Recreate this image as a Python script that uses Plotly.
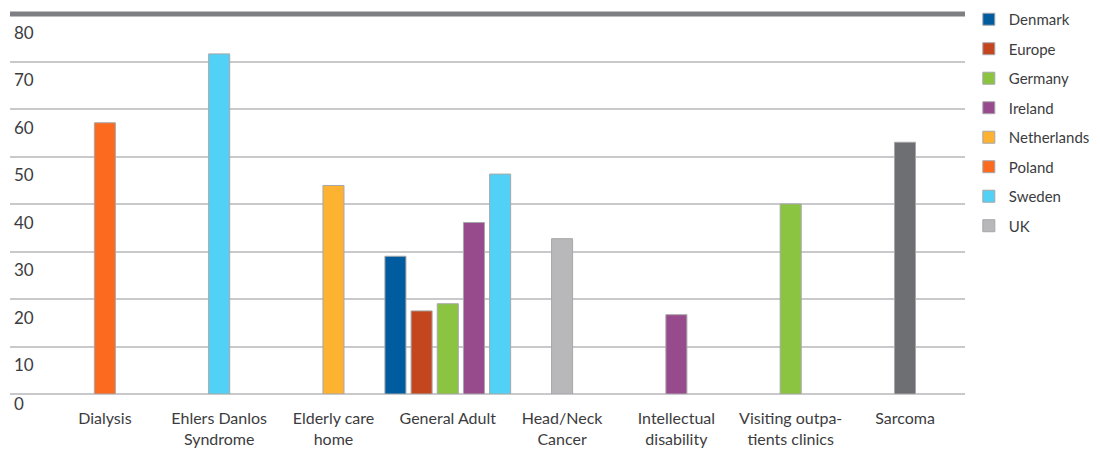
import plotly.graph_objects as go

categories = ["Dialysis", "Ehlers Danlos<br>Syndrome", "Elderly care<br>home", "General Adult",
              "Head/Neck<br>Cancer", "Intellectual<br>disability", "Visiting outpa-<br>tients clinics", "Sarcoma"]

series_names = ["Denmark", "Europe", "Germany", "Ireland", "Netherlands", "Poland", "Sweden", "UK", "Other"]
denmark     = [None, None, None, 29.0, None, None, None, None]
europe      = [None, None, None, 17.5, None, None, None, None]
germany     = [None, None, None, 19.0, None, None, 40.0, None]
ireland     = [None, None, None, 36.1, None, 16.7, None, None]
netherlands = [None, None, 43.9, None, None, None, None, None]
poland      = [57.1, None, None, None, None, None, None, None]
sweden      = [None, 71.6, None, 46.3, None, None, None, None]
uk          = [None, None, None, None, 32.7, None, None, None]
other       = [None, None, None, None, None, None, None, 53.0]

series_values = [denmark, europe, germany, ireland, netherlands, poland, sweden, uk, other]
colors = ["#005c9e", "#c4461f", "#8ac441", "#974b8c", "#fdb231", "#fc6a1f", "#52d1f6", "#b8b8ba", "#6e6f72"]
show_in_legend = [True] * 8 + [False]

y_ticks = [0, 10, 20, 30, 40, 50, 60, 70, 80]

BAR_W = 0.184
PITCH = 0.229

# compute offsets so that the bars present in each category are centred
present = [[s for s in range(len(series_values)) if series_values[s][c] is not None]
           for c in range(len(categories))]

fig = go.Figure()
for s, (name, vals, col, sl) in enumerate(zip(series_names, series_values, colors, show_in_legend)):
    xs, ys = [], []
    for c, v in enumerate(vals):
        if v is None:
            continue
        k = present[c].index(s)
        n = len(present[c])
        xs.append(c + (k - (n - 1) / 2) * PITCH)
        ys.append(v)
    fig.add_trace(go.Bar(
        x=xs, y=ys, name=name, width=BAR_W,
        marker=dict(color=col, line=dict(color="#a7a7a9", width=1)),
        showlegend=sl, legendgroup=name,
    ))

text_color = "#3c3c3e"
font_family = "Lato"

# y tick labels (placed slightly below their gridlines as in the original)
for t in y_ticks:
    fig.add_annotation(
        x=0.002, xref="paper", y=t, yref="y", text=str(t), showarrow=False,
        xanchor="left", yanchor="middle", yshift=(-9 if t == 0 else -18),
        font=dict(family=font_family, size=17, color=text_color),
    )

# thick top rule
fig.add_shape(type="line", xref="paper", yref="paper", x0=0, x1=1, y0=1, y1=1,
              line=dict(color="#7e7f82", width=5), layer="above")

fig.update_layout(
    width=1092, height=448,
    margin=dict(l=2, r=135, t=6, b=62, autoexpand=False),
    paper_bgcolor="white", plot_bgcolor="white",
    barmode="overlay",
    font=dict(family=font_family, size=16, color=text_color),
    xaxis=dict(
        tickmode="array", tickvals=list(range(len(categories))), ticktext=categories,
        range=[-0.83, 7.525], showgrid=False, zeroline=False, showline=False,
        ticks="outside", ticklen=10, tickcolor="rgba(0,0,0,0)", automargin=False,
        tickfont=dict(family=font_family, size=16, color=text_color),
    ),
    yaxis=dict(
        range=[0, 80], tickvals=y_ticks, showticklabels=False, automargin=False,
        showgrid=True, gridcolor="#c9c9cb", gridwidth=1.5,
        zeroline=True, zerolinecolor="#c9c9cb", zerolinewidth=2,
        showline=False,
    ),
    legend=dict(
        x=1.004, xanchor="left", y=1.029, yanchor="top",
        font=dict(family=font_family, size=15, color=text_color),
        tracegroupgap=7, traceorder="grouped", maxheight=440,
        bgcolor="rgba(0,0,0,0)",
    ),
)

fig.write_html("out.html")
